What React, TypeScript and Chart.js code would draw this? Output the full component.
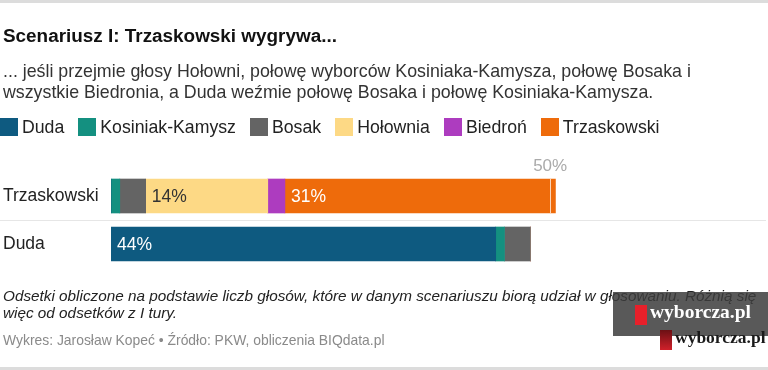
import React, { useEffect, useRef } from "react";
import { Chart, registerables } from "chart.js";
Chart.register(...registerables);

const categories = ["Trzaskowski", "Duda"];
const seriesNames = ["Duda", "Kosiniak-Kamysz", "Bosak", "Hołownia", "Biedroń", "Trzaskowski"];
const seriesColors = ["#0e5a80", "#149080", "#646464", "#fdd985", "#ad3cbf", "#ee6b0b"];
const dudaValues = [0, 43.8];
const kosiniakValues = [1.0, 1.0];
const bosakValues = [2.95, 2.95];
const holowniaValues = [13.9, 0];
const biedronValues = [1.95, 0];
const trzaskowskiValues = [30.8, 0];
const segmentLabels: Record<string, (string | null)[]> = {
  "Hołownia": ["14%", null],
  "Trzaskowski": ["31%", null],
  "Duda": [null, "44%"],
};
const labelColors: Record<string, string> = { "Hołownia": "#333", "Trzaskowski": "#fff", "Duda": "#fff" };
const markerValue = 50;
const markerLabel = "50%";

const FONT = "'Liberation Sans', Arial, Helvetica, sans-serif";

export default function App() {
  const ref = useRef<HTMLCanvasElement>(null);
  useEffect(() => {
    const values = [dudaValues, kosiniakValues, bosakValues, holowniaValues, biedronValues, trzaskowskiValues];
    const overlay = {
      id: "overlay",
      beforeDatasetsDraw(chart: any) {
        const { ctx, scales } = chart;
        const y = scales.y;
        const mid = (y.getPixelForValue(0) + y.getPixelForValue(1)) / 2;
        ctx.save();
        ctx.strokeStyle = "#e6e6e6";
        ctx.lineWidth = 1;
        ctx.beginPath();
        ctx.moveTo(0, Math.round(mid) + 0.5);
        ctx.lineTo(766, Math.round(mid) + 0.5);
        ctx.stroke();
        ctx.restore();
      },
      afterDatasetsDraw(chart: any) {
        const { ctx, scales } = chart;
        const x = scales.x;
        const y = scales.y;
        ctx.save();
        chart.data.datasets.forEach((ds: any, di: number) => {
          const labs = segmentLabels[ds.label];
          if (!labs) return;
          const meta = chart.getDatasetMeta(di);
          meta.data.forEach((bar: any, i: number) => {
            const t = labs[i];
            if (!t) return;
            const left = Math.min(bar.x, bar.base);
            ctx.font = `17.5px ${FONT}`;
            ctx.fillStyle = labelColors[ds.label];
            ctx.textAlign = "left";
            ctx.textBaseline = "middle";
            ctx.fillText(t, left + 6, bar.y + 1);
          });
        });
        const mx = x.getPixelForValue(markerValue);
        const top = y.getPixelForValue(0) - 17;
        ctx.strokeStyle = "rgba(255,255,255,0.7)";
        ctx.lineWidth = 1;
        ctx.beginPath();
        ctx.moveTo(Math.round(mx) + 0.5, top);
        ctx.lineTo(Math.round(mx) + 0.5, top + 34);
        ctx.stroke();
        ctx.font = `17px ${FONT}`;
        ctx.fillStyle = "#aaaaaa";
        ctx.textAlign = "center";
        ctx.textBaseline = "middle";
        ctx.fillText(markerLabel, mx, top - 13);
        ctx.restore();
      },
    };
    const chart = new Chart(ref.current!, {
      type: "bar",
      data: {
        labels: categories,
        datasets: seriesNames.map((n, i) => ({
          label: n,
          data: values[i],
          backgroundColor: seriesColors[i],
          borderWidth: 0,
          barThickness: 34,
        })),
      },
      options: {
        indexAxis: "y",
        animation: false,
        responsive: false,
        maintainAspectRatio: false,
        layout: { padding: { left: 3, right: 130, top: 172, bottom: 102 } },
        plugins: { legend: { display: false }, tooltip: { enabled: false } },
        scales: {
          x: { stacked: true, min: 0, max: 60, display: false },
          y: {
            stacked: true,
            grid: { display: false },
            border: { display: false },
            ticks: { crossAlign: "far", padding: 0, color: "#222", font: { size: 17.5, family: FONT } },
            afterFit: (s: any) => { s.width = 108; },
          },
        },
      },
      plugins: [overlay],
    } as any);
    return () => chart.destroy();
  }, []);

  const sq = (c: string) => (
    <span style={{ display: "inline-block", width: 18, height: 18, background: c, marginRight: 4 }} />
  );

  return (
    <div style={{ position: "fixed", left: 0, top: 0, width: 768, height: 370, background: "#fff", overflow: "hidden", fontFamily: FONT }}>
      <canvas ref={ref} width={768} height={370} style={{ position: "absolute", left: 0, top: 0 }} />
      <div style={{ position: "absolute", left: 0, top: 0, width: 768, height: 3, background: "#dcdcdc" }} />
      <div style={{ position: "absolute", left: 0, top: 367, width: 768, height: 3, background: "#dcdcdc" }} />
      <div style={{ position: "absolute", left: 3, top: 25, fontSize: 18.9, fontWeight: "bold", color: "#111", whiteSpace: "nowrap" }}>
        Scenariusz I: Trzaskowski wygrywa...
      </div>
      <div style={{ position: "absolute", left: 3, top: 61, fontSize: 17.8, lineHeight: "21px", color: "#333", width: 760, whiteSpace: "nowrap" }}>
        ... jeśli przejmie głosy Hołowni, połowę wyborców Kosiniaka-Kamysza, połowę Bosaka i<br />
        wszystkie Biedronia, a Duda weźmie połowę Bosaka i połowę Kosiniaka-Kamysza.
      </div>
      <div style={{ position: "absolute", left: 0, top: 118, display: "flex", alignItems: "center", fontSize: 17.7, color: "#222", whiteSpace: "nowrap", height: 18 }}>
        {seriesNames.map((n, i) => (
          <span key={n} style={{ display: "inline-flex", alignItems: "center", marginRight: 14 }}>
            {sq(seriesColors[i])}
            {n}
          </span>
        ))}
      </div>
      <div style={{ position: "absolute", left: 3, top: 287, fontSize: 15.3, lineHeight: "17px", fontStyle: "italic", color: "#222", width: 765, whiteSpace: "nowrap" }}>
        Odsetki obliczone na podstawie liczb głosów, które w danym scenariuszu biorą udział w głosowaniu. Różnią się<br />
        więc od odsetków z I tury.
      </div>
      <div style={{ position: "absolute", left: 3, top: 332, fontSize: 13.9, color: "#8a8a8a", whiteSpace: "nowrap" }}>
        Wykres: Jarosław Kopeć • Źródło: PKW, obliczenia BIQdata.pl
      </div>
      <div style={{ position: "absolute", left: 613, top: 292, width: 155, height: 44, background: "rgba(60,60,60,0.85)" }} />
      <div style={{ position: "absolute", left: 635, top: 305, width: 12, height: 20, background: "#e8202a" }} />
      <div style={{ position: "absolute", left: 650, top: 301, fontFamily: "'Liberation Serif', serif", fontWeight: "bold", fontSize: 19.5, color: "#fff", whiteSpace: "nowrap" }}>
        wyborcza.pl
      </div>
      <div style={{ position: "absolute", left: 660, top: 330, width: 12, height: 20, background: "linear-gradient(#6b1014, #d0202a)" }} />
      <div style={{ position: "absolute", left: 675, top: 327, fontFamily: "'Liberation Serif', serif", fontWeight: "bold", fontSize: 17.5, color: "#1a1a1a", whiteSpace: "nowrap" }}>
        wyborcza.pl
      </div>
    </div>
  );
}
